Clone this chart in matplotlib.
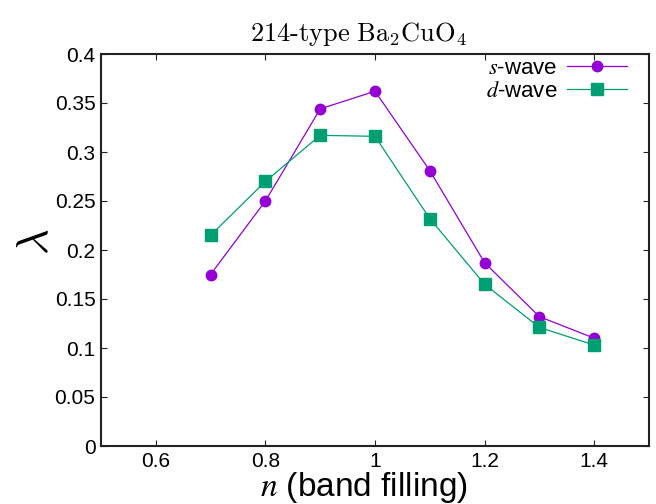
import numpy as np
import matplotlib
matplotlib.use('Agg')
import matplotlib.pyplot as plt

# band filling n
filling = [0.7, 0.8, 0.9, 1.0, 1.1, 1.2, 1.3, 1.4]
# eigenvalue lambda for each pairing symmetry
lam_s = [0.175, 0.250, 0.344, 0.362, 0.281, 0.187, 0.132, 0.110]
lam_d = [0.215, 0.270, 0.317, 0.316, 0.232, 0.165, 0.121, 0.103]

xticks = [0.6, 0.8, 1.0, 1.2, 1.4]
xtick_labels = ['0.6', '0.8', '1', '1.2', '1.4']
yticks = [0, 0.05, 0.1, 0.15, 0.2, 0.25, 0.3, 0.35, 0.4]
ytick_labels = ['0', '0.05', '0.1', '0.15', '0.2', '0.25', '0.3', '0.35', '0.4']

plt.rcParams['font.family'] = ['Liberation Sans', 'DejaVu Sans']
plt.rcParams['mathtext.fontset'] = 'stix'

fig = plt.figure(figsize=(6.56, 5.04), dpi=100)
ax = fig.add_axes([101 / 656, 58 / 504, 548 / 656, 392 / 504])

ax.plot(filling, lam_s, color='#9400d3', lw=0.9, marker='o', ms=7.5,
        label=r'$s$-wave')
ax.plot(filling, lam_d, color='#009e73', lw=0.9, marker='s', ms=8,
        label=r'$d$-wave')

ax.set_xlim(0.5, 1.5)
ax.set_ylim(0, 0.4)
ax.set_xticks(xticks)
ax.set_xticklabels(xtick_labels)
ax.set_yticks(yticks)
ax.set_yticklabels(ytick_labels)
ax.tick_params(direction='in', length=4, width=0.8, labelsize=15,
               top=True, right=True, pad=4, colors='#222222', labelcolor='black')
for sp in ax.spines.values():
    sp.set_linewidth(1.5)
    sp.set_color('#222222')

ax.set_xlabel(r'$n$ (band filling)', fontsize=24, labelpad=0)
ax.xaxis.set_label_coords(0.48, -0.06)
ax.set_ylabel(r'$\lambda$', fontsize=32, math_fontfamily='cm')
ax.yaxis.set_label_coords(-0.08, 0.52)

fig.text(358 / 656, 1 - 41 / 504, r'$\mathrm{214\text{-}type\ Ba_2CuO_4}$',
         ha='center', va='baseline', fontsize=19, math_fontfamily='cm')

ax.legend(loc='upper right', bbox_to_anchor=(0.96, 0.99), frameon=False,
          markerfirst=False, fontsize=16, handlelength=2.7, handletextpad=0.45,
          labelspacing=0.1, borderpad=0, borderaxespad=0)

fig.savefig('out.png', dpi=100)
